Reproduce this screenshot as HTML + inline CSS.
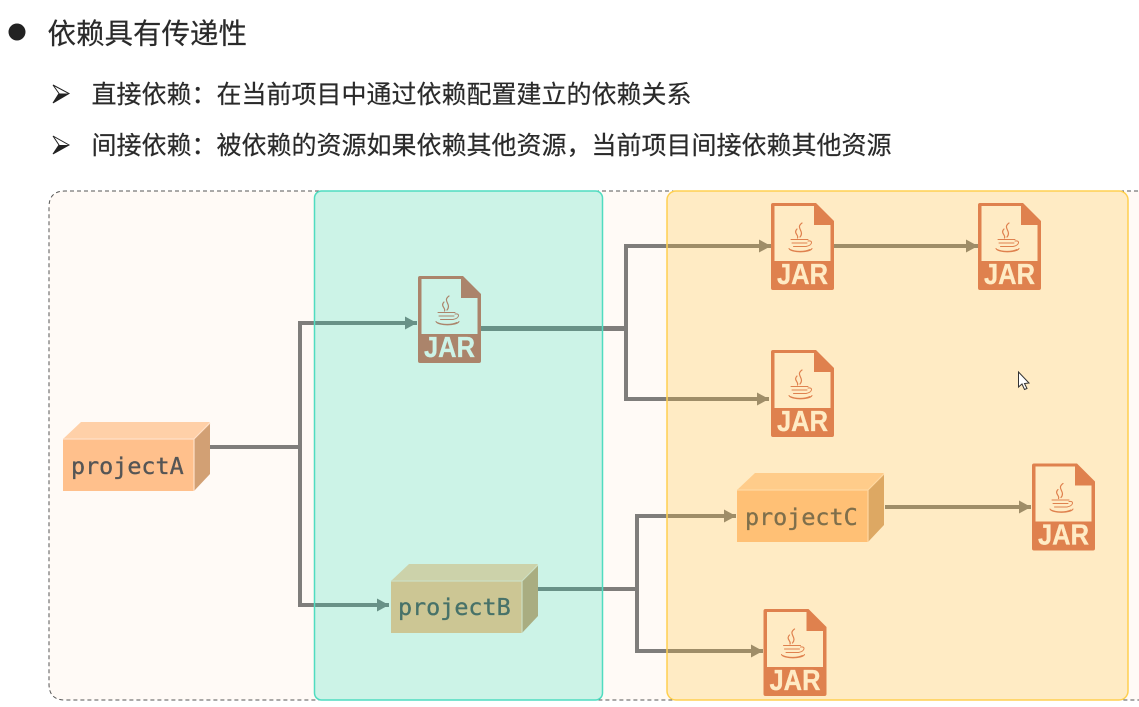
<!DOCTYPE html>
<html><head><meta charset="utf-8">
<style>
html,body{margin:0;padding:0;background:#fff;width:1139px;height:707px;overflow:hidden}
svg{display:block;filter:blur(.35px)}
.cn{font-family:"Liberation Sans","Noto Sans CJK SC",sans-serif;fill:#2a2a2a;stroke:#2a2a2a;stroke-width:.2px}
.m{font-family:"DejaVu Sans Mono","Liberation Mono",monospace;font-size:23.4px;fill:#555;stroke:#555;stroke-width:.35px}
.j{font-family:"Liberation Sans",sans-serif;font-weight:bold;font-size:29px;fill:#fffaf6;stroke:#fffaf6;stroke-width:.3px}
</style></head><body>
<svg width="1139" height="707" viewBox="0 0 1139 707" xmlns="http://www.w3.org/2000/svg">
<defs>
<g id="jar">
<path fill="#d56c58" fill-rule="evenodd" d="M2 0H45L63 18V85Q63 87 61 87H2Q0 87 0 85V2Q0 0 2 0ZM3.500 3V58H59.500V22H43V3Z"/>
<text class="j" x="31.500" y="81.200" text-anchor="middle" textLength="51" lengthAdjust="spacingAndGlyphs">JAR</text>
<g fill="none" stroke="#d56c58" stroke-linecap="round" transform="translate(0,8)">
<path stroke-width="1.200" d="M31 12C24 17 34 20 29 26M26 18C22 22 28 24 26.500 27"/>
<path stroke-width="1" d="M20 28.500H37M21 32H36M22.500 35.500H34.500M37 30C42 29 42 34 35 35.500"/>
<path stroke-width="1" d="M19 38.500C24 41 34 41 39 38.500M18 37.500C20 42 39 42 41 37.500"/>
</g>
</g>
<g id="box">
<polygon points="0,17 18,0 147,0 131,17" fill="#ffd0a8"/>
<polygon points="131,17 147,1 147,52 131,69" fill="#d2a074"/>
<rect x="0" y="17" width="131" height="52" fill="#ffc08c"/>
<path d="M0 17H131V69M131 17L147 1" fill="none" stroke="#ffe0c8" stroke-width="1.200"/>
</g>
<marker id="a" markerUnits="userSpaceOnUse" markerWidth="13" markerHeight="14" refX="12" refY="7" orient="auto"><path d="M0 0.500L12 7L0 13.500Z" fill="#7f7d7b"/></marker>
</defs>

<rect width="1139" height="707" fill="#fff"/>
<circle cx="17" cy="32" r="8.500" fill="#222"/>
<text class="cn" x="47.500" y="43.500" font-size="28.500">依赖具有传递性</text>
<path d="M53 85L69 93.500L53 103L59 93.500Z" fill="#fff" stroke="#222" stroke-width="1"/>
<path d="M53 103L59 93.500L69 93.500Z" fill="#222"/>
<text class="cn" x="91.500" y="103" font-size="25">直接依赖：在当前项目中通过依赖配置建立的依赖关系</text>
<path d="M53 136L69 145L53 154L59 145Z" fill="#fff" stroke="#222" stroke-width="1"/>
<path d="M53 154L59 145L69 145Z" fill="#222"/>
<text class="cn" x="91.500" y="154" font-size="25">间接依赖：被依赖的资源如果依赖其他资源，当前项目间接依赖其他资源</text>

<path d="M1145 191H65Q49 191 49 207V684Q49 700 65 700H1145" fill="#fffaf6" stroke="#555" stroke-width="1" stroke-dasharray="4 3"/>

<g fill="none" stroke="#7f7d7b" stroke-width="4">
<path d="M210 447H300"/>
<path d="M300 323V605H389" marker-end="url(#a)"/>
<path d="M298 323H417" marker-end="url(#a)"/>
<path d="M481 328.500H626" stroke-width="5"/>
<path d="M626 246V399H769" marker-end="url(#a)"/>
<path d="M624 246H771" marker-end="url(#a)"/>
<path d="M834 246H978" marker-end="url(#a)"/>
<path d="M538 589H637"/>
<path d="M637 516V651H763" marker-end="url(#a)"/>
<path d="M635 516H736" marker-end="url(#a)"/>
<path d="M885 507H1031" marker-end="url(#a)"/>
</g>

<use href="#box" x="63" y="422"/>
<text class="m" x="71" y="474">projectA</text>
<use href="#box" x="391" y="564"/>
<text class="m" x="398" y="615">projectB</text>
<use href="#box" x="737" y="473"/>
<text class="m" x="745" y="525">projectC</text>

<use href="#jar" x="418" y="276"/>
<use href="#jar" x="771" y="203"/>
<use href="#jar" x="978" y="203"/>
<use href="#jar" x="771" y="350"/>
<use href="#jar" x="1032" y="463.500"/>
<use href="#jar" x="763.500" y="609"/>

<rect x="314.500" y="191" width="288" height="509" rx="7" fill="rgb(23,218,177)" fill-opacity=".22" stroke="#4fdcc0" stroke-width="1.500"/>
<rect x="667" y="191" width="461" height="509" rx="9" fill="rgb(255,190,46)" fill-opacity=".25" stroke="#ffd050" stroke-width="1.500"/>

<path d="M1018.500 372V387L1022 384L1024.500 389.500L1027 388.500L1024.500 383.500L1029 383Z" fill="#fff" stroke="#333" stroke-width="1"/>
</svg>
</body></html>
